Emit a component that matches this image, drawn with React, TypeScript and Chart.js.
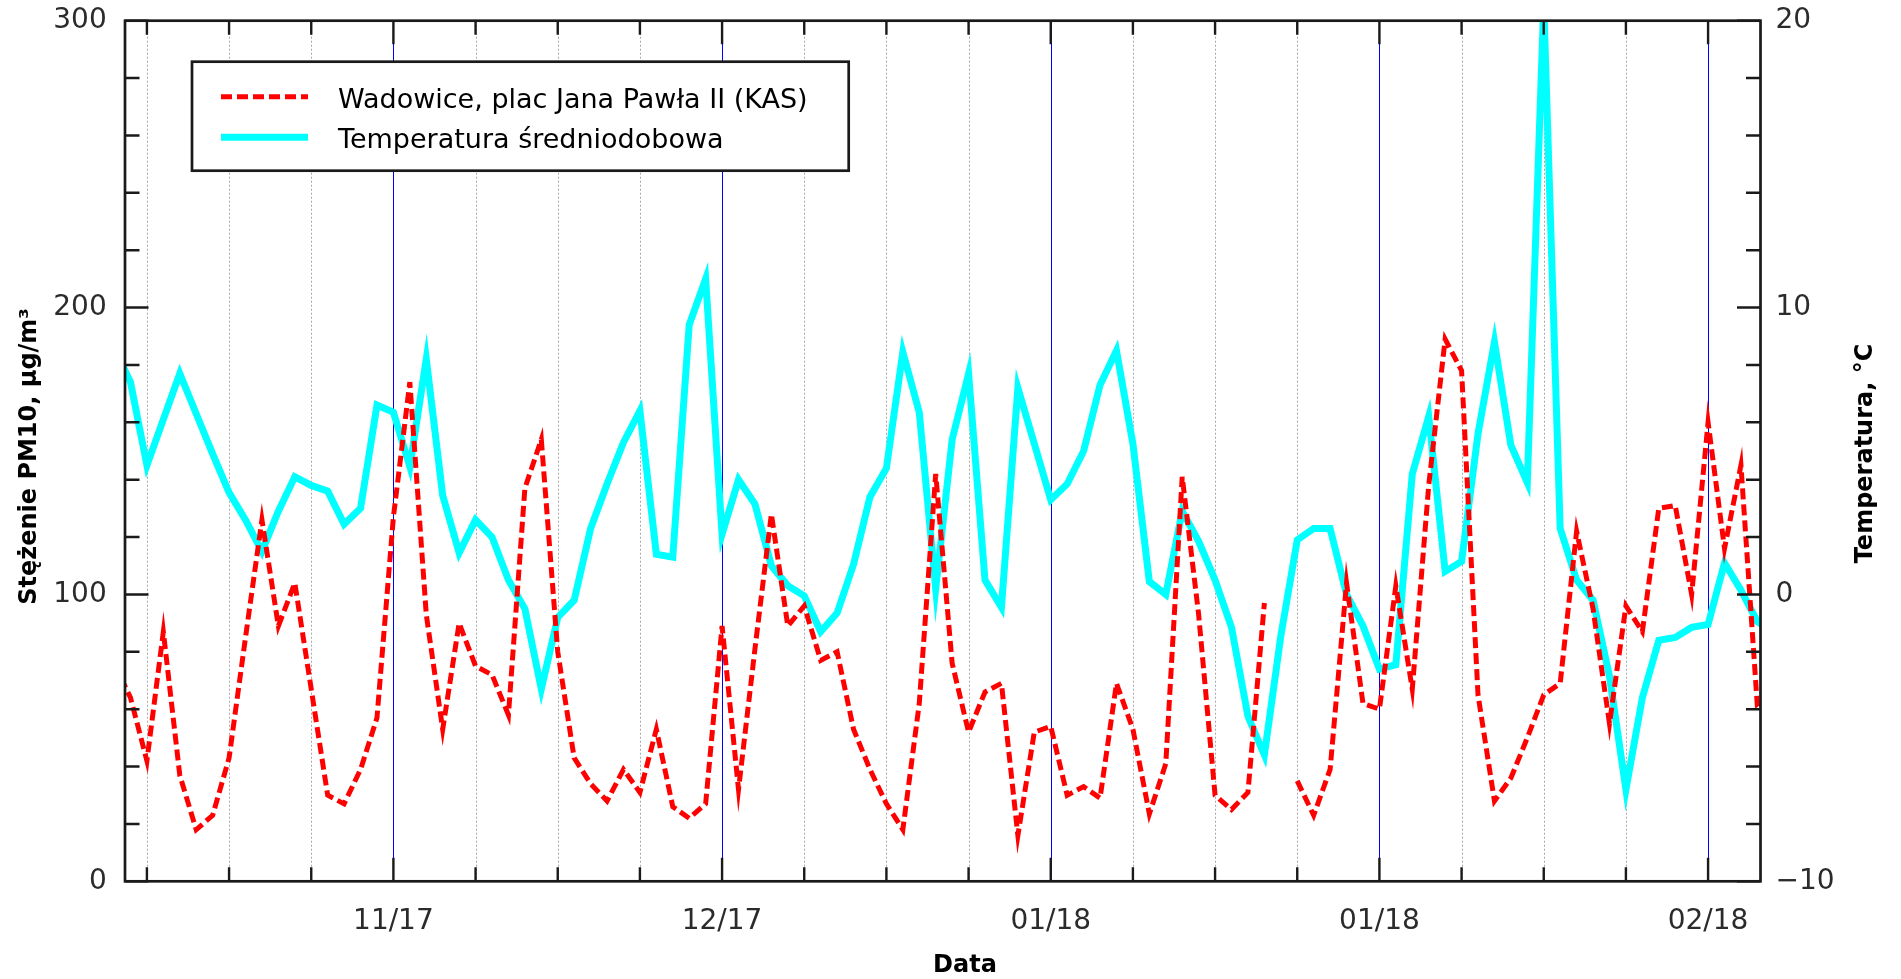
import React, { useEffect, useRef } from 'react';
import { Chart, registerables } from 'chart.js';

Chart.register(...registerables);

// ---- data (one value per day, first value = day -2 relative to the first grid tick) ----
const FIRST_DAY = -2;

const pm10Values: (number | null)[] = [
  76, 64, 42, 87, 37, 18, 23, 43, 85, 126,
  89, 104, 67, 30, 27, 39, 57, 127, 174, 93,
  53, 90, 75, 72, 58, 137, 154, 80, 43, 34,
  28, 39, 31, 53, 26, 22, 27, 89, 32, 81,
  128, 89, 96, 77, 80, 53, 39, 27, 18, 62,
  142, 76, 52, 66, 69, 16, 52, 54, 30, 33,
  29, 69, 53, 23.5, 41, 141, 93, 30, 25, 31,
  97, null, 35, 23, 39, 104, 62, 60, 103, 67,
  138, 189, 178, 65, 28, 36, 50, 65, 69, 122,
  95, 55, 96, 87, 130, 131, 100, 160, 116, 145,
  61, 55,
];

const temperatureValues: number[] = [
  8.6, 7.4, 4.5, 6.1, 7.7, 6.3, 4.9, 3.55, 2.6, 1.5,
  2.9, 4.1, 3.8, 3.6, 2.45, 3.0, 6.6, 6.35, 4.45, 8.2,
  3.45, 1.45, 2.6, 2.0, 0.5, -0.5, -3.3, -0.8, -0.2, 2.3,
  3.85, 5.3, 6.4, 1.4, 1.3, 9.4, 11.0, 2.1, 4.0, 3.15,
  1.0, 0.3, -0.05, -1.3, -0.65, 1.05, 3.4, 4.4, 8.45, 6.35,
  0.2, 5.4, 7.7, 0.5, -0.45, 7.2, 5.25, 3.3, 3.85, 5.0,
  7.3, 8.5, 5.25, 0.45, 0.0, 2.9, 1.85, 0.5, -1.15, -4.25,
  -5.6, -1.45, 1.9, 2.3, 2.3, 0.0, -1.1, -2.6, -2.45, 4.2,
  6.2, 0.8, 1.15, 5.6, 8.8, 5.2, 3.9, 20.6, 2.3, 0.5,
  -0.2, -2.85, -6.8, -3.6, -1.6, -1.5, -1.15, -1.05, 1.1, 0.15,
  -0.95, -1.3,
];

// ---- axes ----
const X_MIN = -1.333;
const X_MAX = 98.19;
const xTickDays = [0, 5, 10, 15, 20, 25, 30, 35, 40, 45, 50, 55, 60, 65, 70, 75, 80, 85, 90, 95];
const monthTickDays = [15, 35, 55, 75, 95];
const monthTickLabels = ['11/17', '12/17', '01/18', '01/18', '02/18'];
const pmTicks = [0, 20, 40, 60, 80, 100, 120, 140, 160, 180, 200, 220, 240, 260, 280, 300];
const pmTickLabels = [0, 100, 200, 300];
const tempTicks = [-10, -8, -6, -4, -2, 0, 2, 4, 6, 8, 10, 12, 14, 16, 18, 20];
const tempTickLabels = [-10, 0, 10, 20];

const SERIES_PM_LABEL = 'Wadowice, plac Jana Pawła II (KAS)';
const SERIES_T_LABEL = 'Temperatura średniodobowa';
const TITLE_LEFT = 'Stężenie PM10, µg/m³';
const TITLE_RIGHT = 'Temperatura, °C';
const TITLE_X = 'Data';

const FONT = '"DejaVu Sans", sans-serif';
const TICK_COLOR = '#2b2b2b';

const fmtNum = (v: number) => (v < 0 ? '\u2212' + Math.abs(v) : String(v));

const noScalePadding = (s: any) => {
  s.paddingTop = 0;
  s.paddingBottom = 0;
  s.paddingLeft = 0;
  s.paddingRight = 0;
};

const decorPlugin = {
  id: 'decor',
  beforeDatasetsDraw(chart: any) {
    const { ctx, chartArea: a } = chart;
    const xs = chart.scales.x;
    ctx.save();
    ctx.lineWidth = 1;
    for (const t of xs.ticks) {
      const px = Math.round(xs.getPixelForValue(t.value)) + 0.5;
      const major = monthTickDays.includes(t.value);
      ctx.beginPath();
      ctx.setLineDash(major ? [] : [2, 2]);
      ctx.strokeStyle = major ? '#0000ff' : '#a8a8a8';
      ctx.moveTo(px, a.top);
      ctx.lineTo(px, a.bottom);
      ctx.stroke();
    }
    ctx.restore();
  },
  afterDatasetsDraw(chart: any) {
    const { ctx, chartArea: a } = chart;
    const xs = chart.scales.x;
    const ys = chart.scales.y;
    const y1 = chart.scales.y1;
    ctx.save();
    ctx.setLineDash([]);
    ctx.strokeStyle = '#1a1a1a';
    ctx.lineWidth = 2.4;
    ctx.beginPath();
    for (const t of xs.ticks) {
      const px = xs.getPixelForValue(t.value);
      const len = monthTickDays.includes(t.value) ? 23.5 : 14;
      ctx.moveTo(px, a.bottom);
      ctx.lineTo(px, a.bottom - len);
      ctx.moveTo(px, a.top);
      ctx.lineTo(px, a.top + len);
    }
    for (const t of ys.ticks) {
      const py = ys.getPixelForValue(t.value);
      const len = t.value % 100 === 0 ? 23.5 : 14.5;
      ctx.moveTo(a.left, py);
      ctx.lineTo(a.left + len, py);
    }
    for (const t of y1.ticks) {
      const py = y1.getPixelForValue(t.value);
      const len = t.value % 10 === 0 ? 23.5 : 14.5;
      ctx.moveTo(a.right, py);
      ctx.lineTo(a.right - len, py);
    }
    ctx.stroke();
    ctx.lineWidth = 2.7;
    ctx.strokeRect(a.left, a.top, a.right - a.left, a.bottom - a.top);

    // legend box
    const lx = 192, ly = 61.7, lw = 656.7, lh = 109;
    ctx.fillStyle = '#ffffff';
    ctx.fillRect(lx, ly, lw, lh);
    ctx.lineWidth = 2.7;
    ctx.strokeStyle = '#1a1a1a';
    ctx.strokeRect(lx, ly, lw, lh);
    const rows = [96.7, 137.3];
    chart.data.datasets.forEach((ds: any, i: number) => {
      const cy = rows[i];
      ctx.beginPath();
      ctx.strokeStyle = ds.borderColor;
      ctx.lineWidth = ds.borderWidth;
      ctx.setLineDash(ds.borderDash || []);
      ctx.moveTo(221, cy);
      ctx.lineTo(308, cy);
      ctx.stroke();
      ctx.setLineDash([]);
      ctx.fillStyle = '#000000';
      ctx.font = `27px ${FONT}`;
      ctx.textAlign = 'left';
      ctx.textBaseline = 'alphabetic';
      ctx.fillText(ds.label, 338, cy + 11);
    });
    ctx.restore();
  },
  afterDraw(chart: any) {
    const { ctx } = chart;
    ctx.save();
    ctx.fillStyle = '#000000';
    ctx.font = `bold 24px ${FONT}`;
    ctx.textAlign = 'center';
    ctx.textBaseline = 'alphabetic';
    ctx.fillText(TITLE_X, 965, 971.5);
    ctx.save();
    ctx.translate(36, 456.5);
    ctx.rotate(-Math.PI / 2);
    ctx.fillText(TITLE_LEFT, 0, 0);
    ctx.restore();
    ctx.save();
    ctx.translate(1872, 453.5);
    ctx.rotate(-Math.PI / 2);
    ctx.fillText(TITLE_RIGHT, 0, 0);
    ctx.restore();
    ctx.restore();
  },
};

export default function App() {
  const ref = useRef<HTMLCanvasElement>(null);
  useEffect(() => {
    document.body.style.margin = '0';
    const canvas = ref.current;
    if (!canvas) return;
    const chart = new Chart(canvas, {
      type: 'line',
      data: {
        datasets: [
          {
            label: SERIES_PM_LABEL,
            data: pm10Values.map((v, i) => ({ x: FIRST_DAY + i, y: v })),
            yAxisID: 'y',
            borderColor: '#ff0000',
            borderWidth: 5,
            borderDash: [11, 5],
            pointRadius: 0,
            tension: 0,
            spanGaps: false,
            clip: 0,
            order: 0,
          } as any,
          {
            label: SERIES_T_LABEL,
            data: temperatureValues.map((v, i) => ({ x: FIRST_DAY + i, y: v })),
            yAxisID: 'y1',
            borderColor: '#00ffff',
            borderWidth: 7,
            pointRadius: 0,
            tension: 0,
            clip: 0,
            order: 1,
          } as any,
        ],
      },
      options: {
        animation: false,
        responsive: false,
        devicePixelRatio: 1,
        layout: { padding: { top: 20.7, left: 0, right: 0, bottom: 0 } },
        plugins: { legend: { display: false }, tooltip: { enabled: false } },
        scales: {
          x: {
            type: 'linear',
            position: 'bottom',
            min: X_MIN,
            max: X_MAX,
            bounds: 'data',
            grid: { display: false, drawTicks: false },
            border: { display: false },
            afterBuildTicks: (s: any) => { s.ticks = xTickDays.map((v) => ({ value: v })); },
            afterFit: (s: any) => { s.height = 97.7; noScalePadding(s); },
            ticks: {
              autoSkip: false,
              maxRotation: 0,
              minRotation: 0,
              padding: 24,
              color: TICK_COLOR,
              font: { family: FONT, size: 28 },
              callback: (v: any) => {
                const k = monthTickDays.indexOf(Number(v));
                return k >= 0 ? monthTickLabels[k] : '';
              },
            },
          },
          y: {
            type: 'linear',
            position: 'left',
            min: 0,
            max: 300,
            bounds: 'data',
            grid: { display: false, drawTicks: false },
            border: { display: false },
            afterBuildTicks: (s: any) => { s.ticks = pmTicks.map((v) => ({ value: v })); },
            afterFit: (s: any) => { s.width = 125; noScalePadding(s); },
            ticks: {
              autoSkip: false,
              padding: 18.3,
              color: TICK_COLOR,
              font: { family: FONT, size: 28 },
              callback: (v: any) => (pmTickLabels.includes(Number(v)) ? fmtNum(Number(v)) : ''),
            },
          },
          y1: {
            type: 'linear',
            position: 'right',
            min: -10,
            max: 20,
            bounds: 'data',
            grid: { display: false, drawTicks: false },
            border: { display: false },
            afterBuildTicks: (s: any) => { s.ticks = tempTicks.map((v) => ({ value: v })); },
            afterFit: (s: any) => { s.width = 140.5; noScalePadding(s); },
            ticks: {
              autoSkip: false,
              padding: 15,
              color: TICK_COLOR,
              font: { family: FONT, size: 28 },
              callback: (v: any) => (tempTickLabels.includes(Number(v)) ? fmtNum(Number(v)) : ''),
            },
          },
        },
      } as any,
      plugins: [decorPlugin],
    });
    return () => chart.destroy();
  }, []);
  return (
    <div style={{ width: 1901, height: 979 }}>
      <canvas ref={ref} width={1901} height={979} style={{ display: 'block', width: 1901, height: 979 }} />
    </div>
  );
}
